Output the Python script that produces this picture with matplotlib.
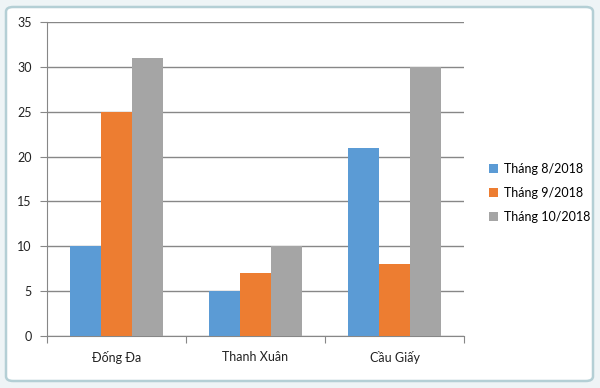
import matplotlib
matplotlib.use("Agg")
import numpy as np
from matplotlib import pyplot as plt
from matplotlib.patches import FancyBboxPatch

# data
districts = ["Đống Đa", "Thanh Xuân", "Cầu Giấy"]
series_names = ["Tháng 8/2018", "Tháng 9/2018", "Tháng 10/2018"]
thang_8 = [10, 5, 21]
thang_9 = [25, 7, 8]
thang_10 = [31, 10, 30]
y_ticks = [0, 5, 10, 15, 20, 25, 30, 35]

colors = ["#5B9BD5", "#ED7D31", "#A5A5A5"]
grid_color = "#878787"

plt.rcParams['font.family'] = ['Lato', 'DejaVu Sans']

fig = plt.figure(figsize=(6.0, 3.88), dpi=100, facecolor="#eef4f6")

# chart area frame (rounded, like the excel chart object)
frame = FancyBboxPatch((6 / 600, 7 / 388), 587 / 600, 374 / 388,
                       boxstyle="round,pad=0,rounding_size=0.012",
                       transform=fig.transFigure, facecolor="white",
                       edgecolor="#b4cfd5", linewidth=1.8, zorder=-1)
fig.add_artist(frame)

ax = fig.add_axes([47 / 600, 1 - 336 / 388, (464 - 47) / 600, (336 - 22) / 388])
ax.set_facecolor("none")

x = np.arange(len(districts))
width = 0.223
for i, vals in enumerate([thang_8, thang_9, thang_10]):
    ax.bar(x + (i - 1) * width, vals, width, color=colors[i],
           label=series_names[i], zorder=3)

ax.set_xlim(-0.5, len(districts) - 0.5)
ax.set_ylim(0, 35)
ax.set_yticks(y_ticks)
ax.set_yticklabels([str(t) for t in y_ticks], fontsize=9, color="#222222")
ax.yaxis.grid(True, color=grid_color, linewidth=1, zorder=0)

# category labels between boundary ticks
ax.set_xticks(np.arange(-0.5, len(districts), 1.0))
ax.set_xticklabels([])
ax.set_xticks(x, minor=True)
ax.set_xticklabels(districts, minor=True, fontsize=9, color="#222222")
ax.tick_params(axis="x", which="minor", length=0, pad=11)
ax.tick_params(axis="x", which="major", length=5, color=grid_color, direction="out")
ax.tick_params(axis="y", length=5, color=grid_color, pad=6)

for side in ["top", "right"]:
    ax.spines[side].set_visible(False)
ax.spines["left"].set_color(grid_color)
ax.spines["bottom"].set_color(grid_color)

leg = fig.legend(loc="center left", bbox_to_anchor=(478 / 600, 1 - 193 / 388),
                 frameon=False, fontsize=9, handlelength=0.7, handleheight=0.7,
                 handletextpad=0.5, labelspacing=0.95)

plt.savefig("out.png", dpi=100, facecolor=fig.get_facecolor())
